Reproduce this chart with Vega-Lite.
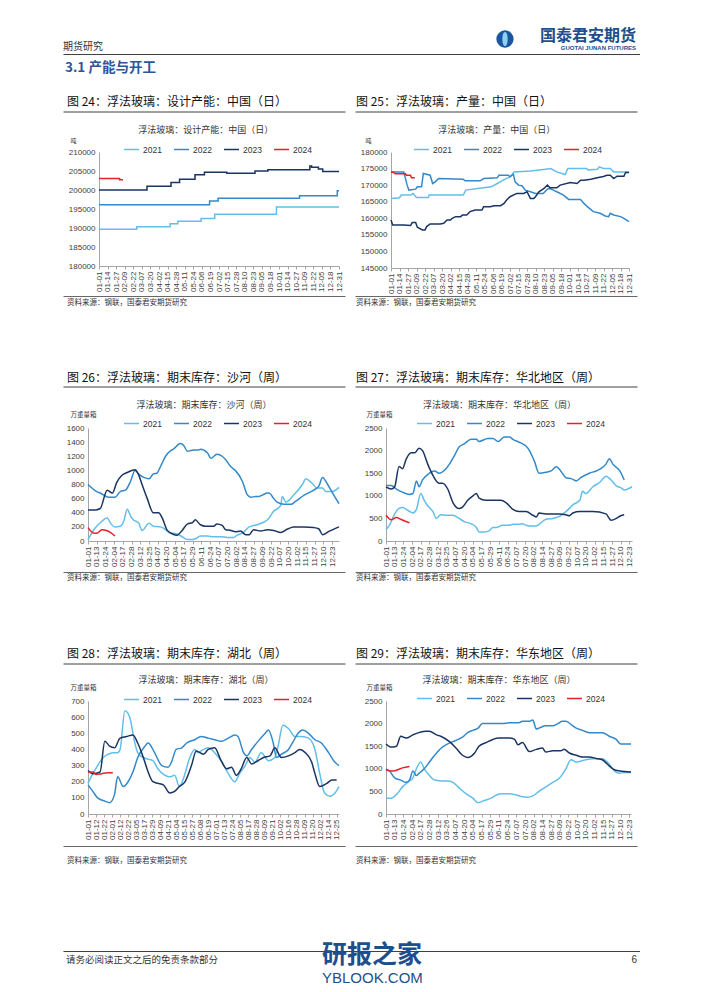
{
  "$schema": "https://vega.github.io/schema/vega-lite/v6.json",
  "background": "white",
  "padding": {"left": 63, "top": 24, "right": 0, "bottom": 0},
  "config": {
    "view": {"stroke": null},
    "font": "Noto Sans CJK SC",
    "axis": {"labelFont": "Liberation Sans", "labelFontSize": 8, "labelColor": "#404040", "domainColor": "#A6A6A6", "tickColor": "#A6A6A6", "grid": false},
    "line": {"strokeWidth": 1.5}
  },
  "resolve": {"scale": {"color": "independent", "x": "independent", "y": "independent"}, "legend": {"color": "independent"}},
  "datasets": {
    "d24": [
      {"s":"2021","u":0,"v":189700},{"s":"2021","u":4.4,"v":190300},{"s":"2021","u":8.3,"v":191100},{"s":"2021","u":9.2,"v":191800},{"s":"2021","u":11.9,"v":192500},{"s":"2021","u":13.5,"v":193600},{"s":"2021","u":20.7,"v":195500},{"s":"2021","u":28,"v":195500},
      {"s":"2022","u":0,"v":196100},{"s":"2022","u":12.9,"v":197100},{"s":"2022","u":13.9,"v":197800},{"s":"2022","u":23.4,"v":198500},{"s":"2022","u":27.8,"v":199800},{"s":"2022","u":28,"v":199800},
      {"s":"2023","u":0,"v":200000},{"s":"2023","u":5.6,"v":201000},{"s":"2023","u":8.4,"v":202000},{"s":"2023","u":9.4,"v":202800},{"s":"2023","u":11.2,"v":204000},{"s":"2023","u":12.3,"v":204700},{"s":"2023","u":14.9,"v":204400},{"s":"2023","u":18.2,"v":205000},{"s":"2023","u":19.7,"v":205300},{"s":"2023","u":24.6,"v":206300},{"s":"2023","u":24.8,"v":206000},{"s":"2023","u":25.6,"v":205500},{"s":"2023","u":26.1,"v":204900},{"s":"2023","u":28,"v":204900},
      {"s":"2024","u":0,"v":203000},{"s":"2024","u":2.4,"v":202700},{"s":"2024","u":2.8,"v":202700}
    ],
    "d25": [
      {"s":"2021","u":0,"v":166000},{"s":"2021","u":1.0,"v":166200},{"s":"2021","u":1.2,"v":167000},{"s":"2021","u":2.3,"v":167000},{"s":"2021","u":2.6,"v":167500},{"s":"2021","u":3.0,"v":166300},{"s":"2021","u":4.4,"v":166300},{"s":"2021","u":4.5,"v":167000},{"s":"2021","u":8.5,"v":167000},{"s":"2021","u":8.8,"v":168500},{"s":"2021","u":10.2,"v":169000},{"s":"2021","u":11.8,"v":169500},{"s":"2021","u":12.5,"v":170500},{"s":"2021","u":13.2,"v":171500},{"s":"2021","u":14.0,"v":172500},{"s":"2021","u":14.5,"v":174000},{"s":"2021","u":16.4,"v":174300},{"s":"2021","u":18.2,"v":174800},{"s":"2021","u":18.8,"v":175000},{"s":"2021","u":19.5,"v":174000},{"s":"2021","u":20.5,"v":173200},{"s":"2021","u":20.8,"v":175000},{"s":"2021","u":23.0,"v":175000},{"s":"2021","u":23.2,"v":174600},{"s":"2021","u":24.3,"v":174800},{"s":"2021","u":24.5,"v":175500},{"s":"2021","u":25.0,"v":175000},{"s":"2021","u":25.8,"v":175000},{"s":"2021","u":26.2,"v":174000},{"s":"2021","u":28.0,"v":174000},
      {"s":"2022","u":0,"v":174000},{"s":"2022","u":1.5,"v":174000},{"s":"2022","u":1.9,"v":170000},{"s":"2022","u":2.1,"v":168500},{"s":"2022","u":2.9,"v":168800},{"s":"2022","u":3.1,"v":169500},{"s":"2022","u":3.6,"v":169500},{"s":"2022","u":3.8,"v":173500},{"s":"2022","u":4.6,"v":173000},{"s":"2022","u":4.9,"v":170500},{"s":"2022","u":5.2,"v":171000},{"s":"2022","u":5.6,"v":172000},{"s":"2022","u":8.5,"v":171800},{"s":"2022","u":8.7,"v":171300},{"s":"2022","u":10.5,"v":171300},{"s":"2022","u":10.9,"v":172000},{"s":"2022","u":12.5,"v":172200},{"s":"2022","u":12.7,"v":173000},{"s":"2022","u":13.8,"v":173000},{"s":"2022","u":14.0,"v":172500},{"s":"2022","u":14.4,"v":173300},{"s":"2022","u":14.6,"v":171000},{"s":"2022","u":15.0,"v":170000},{"s":"2022","u":15.4,"v":169800},{"s":"2022","u":15.8,"v":168500},{"s":"2022","u":16.4,"v":168000},{"s":"2022","u":17.0,"v":167500},{"s":"2022","u":17.9,"v":167500},{"s":"2022","u":18.4,"v":168800},{"s":"2022","u":18.7,"v":169000},{"s":"2022","u":19.1,"v":168500},{"s":"2022","u":19.5,"v":168000},{"s":"2022","u":20.3,"v":167000},{"s":"2022","u":20.9,"v":165700},{"s":"2022","u":22.3,"v":165700},{"s":"2022","u":22.7,"v":164500},{"s":"2022","u":23.1,"v":163500},{"s":"2022","u":23.8,"v":162000},{"s":"2022","u":24.6,"v":161500},{"s":"2022","u":25.2,"v":160700},{"s":"2022","u":25.6,"v":160500},{"s":"2022","u":25.8,"v":161500},{"s":"2022","u":26.2,"v":161000},{"s":"2022","u":27.0,"v":160500},{"s":"2022","u":27.4,"v":160000},{"s":"2022","u":28.0,"v":159000},
      {"s":"2023","u":0,"v":159500},{"s":"2023","u":0.2,"v":158000},{"s":"2023","u":1.5,"v":158000},{"s":"2023","u":2.3,"v":157800},{"s":"2023","u":2.5,"v":158700},{"s":"2023","u":2.9,"v":158700},{"s":"2023","u":3.1,"v":157300},{"s":"2023","u":3.7,"v":156500},{"s":"2023","u":4.0,"v":156500},{"s":"2023","u":4.2,"v":157500},{"s":"2023","u":4.6,"v":158300},{"s":"2023","u":5.8,"v":158300},{"s":"2023","u":6.2,"v":158500},{"s":"2023","u":6.6,"v":159500},{"s":"2023","u":7.0,"v":159500},{"s":"2023","u":7.2,"v":160000},{"s":"2023","u":7.6,"v":160500},{"s":"2023","u":8.2,"v":160500},{"s":"2023","u":8.4,"v":161000},{"s":"2023","u":8.9,"v":161000},{"s":"2023","u":9.3,"v":162000},{"s":"2023","u":9.9,"v":162500},{"s":"2023","u":10.7,"v":162500},{"s":"2023","u":10.9,"v":163500},{"s":"2023","u":11.7,"v":163500},{"s":"2023","u":12.1,"v":163800},{"s":"2023","u":12.9,"v":163800},{"s":"2023","u":13.3,"v":164500},{"s":"2023","u":13.6,"v":165500},{"s":"2023","u":14.0,"v":166500},{"s":"2023","u":14.8,"v":167500},{"s":"2023","u":15.6,"v":167500},{"s":"2023","u":16.0,"v":168000},{"s":"2023","u":16.4,"v":166000},{"s":"2023","u":16.8,"v":166000},{"s":"2023","u":17.0,"v":166500},{"s":"2023","u":17.4,"v":168000},{"s":"2023","u":18.0,"v":169000},{"s":"2023","u":18.4,"v":170000},{"s":"2023","u":18.7,"v":169200},{"s":"2023","u":19.5,"v":169200},{"s":"2023","u":19.9,"v":170000},{"s":"2023","u":21.1,"v":170800},{"s":"2023","u":21.9,"v":170500},{"s":"2023","u":22.3,"v":171500},{"s":"2023","u":22.7,"v":171500},{"s":"2023","u":23.5,"v":171800},{"s":"2023","u":24.4,"v":172300},{"s":"2023","u":25.0,"v":172600},{"s":"2023","u":25.4,"v":173000},{"s":"2023","u":25.8,"v":173000},{"s":"2023","u":26.2,"v":172000},{"s":"2023","u":26.6,"v":172700},{"s":"2023","u":27.4,"v":172700},{"s":"2023","u":27.6,"v":173800},{"s":"2023","u":28.0,"v":173800},
      {"s":"2024","u":0,"v":173900},{"s":"2024","u":0.3,"v":173900},{"s":"2024","u":0.5,"v":173400},{"s":"2024","u":1.7,"v":173400},{"s":"2024","u":1.8,"v":173000},{"s":"2024","u":2.3,"v":173000},{"s":"2024","u":2.4,"v":172200},{"s":"2024","u":2.8,"v":172200}
    ],
    "d26": [
      {"s":"2021","u":0,"v":20},{"s":"2021","u":0.8,"v":180},{"s":"2021","u":1.6,"v":280},{"s":"2021","u":2.2,"v":330},{"s":"2021","u":2.6,"v":250},{"s":"2021","u":3.1,"v":200},{"s":"2021","u":3.7,"v":210},{"s":"2021","u":4.1,"v":280},{"s":"2021","u":4.5,"v":450},{"s":"2021","u":4.9,"v":350},{"s":"2021","u":5.2,"v":300},{"s":"2021","u":5.8,"v":260},{"s":"2021","u":6.2,"v":150},{"s":"2021","u":7.0,"v":250},{"s":"2021","u":7.5,"v":210},{"s":"2021","u":8.3,"v":200},{"s":"2021","u":8.7,"v":180},{"s":"2021","u":9.3,"v":120},{"s":"2021","u":10.2,"v":100},{"s":"2021","u":10.8,"v":60},{"s":"2021","u":11.4,"v":20},{"s":"2021","u":12.0,"v":20},{"s":"2021","u":12.3,"v":30},{"s":"2021","u":12.9,"v":70},{"s":"2021","u":13.7,"v":70},{"s":"2021","u":14.4,"v":60},{"s":"2021","u":15.2,"v":60},{"s":"2021","u":16.0,"v":50},{"s":"2021","u":16.7,"v":50},{"s":"2021","u":17.1,"v":80},{"s":"2021","u":17.9,"v":130},{"s":"2021","u":18.5,"v":200},{"s":"2021","u":19.4,"v":230},{"s":"2021","u":20.6,"v":300},{"s":"2021","u":21.3,"v":420},{"s":"2021","u":22.1,"v":500},{"s":"2021","u":22.3,"v":630},{"s":"2021","u":22.7,"v":550},{"s":"2021","u":23.6,"v":650},{"s":"2021","u":24.6,"v":800},{"s":"2021","u":25.0,"v":880},{"s":"2021","u":25.6,"v":830},{"s":"2021","u":26.3,"v":750},{"s":"2021","u":26.9,"v":750},{"s":"2021","u":27.3,"v":700},{"s":"2021","u":28.0,"v":700},{"s":"2021","u":28.8,"v":760},
      {"s":"2022","u":0,"v":800},{"s":"2022","u":1.0,"v":700},{"s":"2022","u":1.4,"v":680},{"s":"2022","u":2.4,"v":620},{"s":"2022","u":3.1,"v":620},{"s":"2022","u":3.7,"v":700},{"s":"2022","u":4.3,"v":720},{"s":"2022","u":4.9,"v":850},{"s":"2022","u":5.4,"v":1000},{"s":"2022","u":5.8,"v":950},{"s":"2022","u":6.4,"v":900},{"s":"2022","u":7.0,"v":880},{"s":"2022","u":7.5,"v":950},{"s":"2022","u":7.9,"v":960},{"s":"2022","u":8.3,"v":1050},{"s":"2022","u":8.9,"v":1200},{"s":"2022","u":9.5,"v":1280},{"s":"2022","u":9.8,"v":1300},{"s":"2022","u":10.6,"v":1380},{"s":"2022","u":11.0,"v":1350},{"s":"2022","u":11.4,"v":1270},{"s":"2022","u":11.8,"v":1280},{"s":"2022","u":12.2,"v":1290},{"s":"2022","u":12.7,"v":1290},{"s":"2022","u":12.9,"v":1300},{"s":"2022","u":13.7,"v":1250},{"s":"2022","u":14.1,"v":1170},{"s":"2022","u":14.8,"v":1230},{"s":"2022","u":15.4,"v":1200},{"s":"2022","u":15.8,"v":1150},{"s":"2022","u":16.4,"v":1050},{"s":"2022","u":16.9,"v":1000},{"s":"2022","u":17.7,"v":850},{"s":"2022","u":18.3,"v":650},{"s":"2022","u":18.7,"v":620},{"s":"2022","u":19.2,"v":630},{"s":"2022","u":19.6,"v":630},{"s":"2022","u":20.0,"v":650},{"s":"2022","u":20.6,"v":680},{"s":"2022","u":20.8,"v":680},{"s":"2022","u":21.2,"v":620},{"s":"2022","u":21.7,"v":550},{"s":"2022","u":22.5,"v":520},{"s":"2022","u":23.3,"v":520},{"s":"2022","u":23.8,"v":560},{"s":"2022","u":24.8,"v":650},{"s":"2022","u":25.9,"v":720},{"s":"2022","u":26.5,"v":780},{"s":"2022","u":26.9,"v":900},{"s":"2022","u":27.5,"v":800},{"s":"2022","u":28.2,"v":650},{"s":"2022","u":28.8,"v":530},
      {"s":"2023","u":0,"v":440},{"s":"2023","u":0.8,"v":440},{"s":"2023","u":1.4,"v":460},{"s":"2023","u":2.2,"v":720},{"s":"2023","u":2.8,"v":680},{"s":"2023","u":3.3,"v":830},{"s":"2023","u":3.9,"v":930},{"s":"2023","u":4.5,"v":970},{"s":"2023","u":5.4,"v":1010},{"s":"2023","u":5.8,"v":940},{"s":"2023","u":6.2,"v":800},{"s":"2023","u":6.8,"v":600},{"s":"2023","u":7.5,"v":400},{"s":"2023","u":8.1,"v":400},{"s":"2023","u":8.5,"v":330},{"s":"2023","u":9.1,"v":150},{"s":"2023","u":9.7,"v":100},{"s":"2023","u":10.2,"v":80},{"s":"2023","u":10.8,"v":150},{"s":"2023","u":11.4,"v":240},{"s":"2023","u":12.0,"v":260},{"s":"2023","u":12.3,"v":300},{"s":"2023","u":12.9,"v":230},{"s":"2023","u":13.5,"v":210},{"s":"2023","u":14.4,"v":210},{"s":"2023","u":14.8,"v":240},{"s":"2023","u":15.4,"v":220},{"s":"2023","u":15.8,"v":160},{"s":"2023","u":16.4,"v":150},{"s":"2023","u":16.9,"v":130},{"s":"2023","u":17.5,"v":140},{"s":"2023","u":18.1,"v":90},{"s":"2023","u":18.5,"v":90},{"s":"2023","u":19.0,"v":160},{"s":"2023","u":19.8,"v":140},{"s":"2023","u":20.6,"v":160},{"s":"2023","u":21.3,"v":150},{"s":"2023","u":22.1,"v":120},{"s":"2023","u":22.9,"v":170},{"s":"2023","u":23.6,"v":200},{"s":"2023","u":24.8,"v":200},{"s":"2023","u":25.9,"v":190},{"s":"2023","u":26.5,"v":170},{"s":"2023","u":26.9,"v":90},{"s":"2023","u":27.7,"v":140},{"s":"2023","u":28.8,"v":200},
      {"s":"2024","u":0,"v":190},{"s":"2024","u":0.7,"v":110},{"s":"2024","u":1.0,"v":110},{"s":"2024","u":1.6,"v":160},{"s":"2024","u":2.2,"v":145},{"s":"2024","u":2.6,"v":120},{"s":"2024","u":3.1,"v":70}
    ],
    "d27": [
      {"s":"2021","u":0,"v":250},{"s":"2021","u":0.4,"v":350},{"s":"2021","u":1.0,"v":600},{"s":"2021","u":1.5,"v":720},{"s":"2021","u":1.9,"v":740},{"s":"2021","u":2.5,"v":680},{"s":"2021","u":3.1,"v":620},{"s":"2021","u":3.5,"v":700},{"s":"2021","u":4.0,"v":1050},{"s":"2021","u":4.4,"v":900},{"s":"2021","u":4.8,"v":780},{"s":"2021","u":5.4,"v":650},{"s":"2021","u":5.8,"v":500},{"s":"2021","u":6.3,"v":580},{"s":"2021","u":6.9,"v":570},{"s":"2021","u":7.7,"v":570},{"s":"2021","u":8.4,"v":500},{"s":"2021","u":9.0,"v":430},{"s":"2021","u":9.8,"v":380},{"s":"2021","u":10.4,"v":300},{"s":"2021","u":10.7,"v":200},{"s":"2021","u":11.3,"v":200},{"s":"2021","u":11.9,"v":230},{"s":"2021","u":12.3,"v":300},{"s":"2021","u":12.7,"v":300},{"s":"2021","u":13.4,"v":350},{"s":"2021","u":14.2,"v":350},{"s":"2021","u":14.6,"v":370},{"s":"2021","u":15.3,"v":370},{"s":"2021","u":15.7,"v":380},{"s":"2021","u":16.1,"v":350},{"s":"2021","u":16.9,"v":330},{"s":"2021","u":17.5,"v":350},{"s":"2021","u":17.8,"v":400},{"s":"2021","u":18.4,"v":480},{"s":"2021","u":19.2,"v":500},{"s":"2021","u":20.0,"v":550},{"s":"2021","u":20.7,"v":650},{"s":"2021","u":21.5,"v":800},{"s":"2021","u":22.3,"v":900},{"s":"2021","u":22.6,"v":1100},{"s":"2021","u":23.0,"v":1050},{"s":"2021","u":23.8,"v":1200},{"s":"2021","u":24.6,"v":1300},{"s":"2021","u":25.3,"v":1430},{"s":"2021","u":25.9,"v":1350},{"s":"2021","u":26.5,"v":1220},{"s":"2021","u":27.0,"v":1180},{"s":"2021","u":27.4,"v":1130},{"s":"2021","u":27.8,"v":1150},{"s":"2021","u":28.3,"v":1200},
      {"s":"2022","u":0,"v":1230},{"s":"2022","u":0.6,"v":1230},{"s":"2022","u":1.2,"v":1150},{"s":"2022","u":1.9,"v":1080},{"s":"2022","u":2.7,"v":1030},{"s":"2022","u":3.1,"v":1050},{"s":"2022","u":3.5,"v":1330},{"s":"2022","u":3.8,"v":1200},{"s":"2022","u":4.2,"v":1350},{"s":"2022","u":5.0,"v":1500},{"s":"2022","u":5.6,"v":1550},{"s":"2022","u":6.1,"v":1500},{"s":"2022","u":6.9,"v":1600},{"s":"2022","u":7.3,"v":1700},{"s":"2022","u":7.9,"v":1900},{"s":"2022","u":8.4,"v":2080},{"s":"2022","u":9.0,"v":2150},{"s":"2022","u":9.8,"v":2250},{"s":"2022","u":10.4,"v":2250},{"s":"2022","u":10.7,"v":2200},{"s":"2022","u":11.7,"v":2270},{"s":"2022","u":12.3,"v":2270},{"s":"2022","u":12.9,"v":2200},{"s":"2022","u":13.6,"v":2300},{"s":"2022","u":14.2,"v":2300},{"s":"2022","u":14.6,"v":2250},{"s":"2022","u":15.5,"v":2170},{"s":"2022","u":16.1,"v":2100},{"s":"2022","u":16.5,"v":2000},{"s":"2022","u":17.1,"v":1750},{"s":"2022","u":17.6,"v":1500},{"s":"2022","u":18.4,"v":1520},{"s":"2022","u":19.0,"v":1550},{"s":"2022","u":19.6,"v":1640},{"s":"2022","u":20.1,"v":1550},{"s":"2022","u":20.7,"v":1400},{"s":"2022","u":21.3,"v":1380},{"s":"2022","u":21.9,"v":1330},{"s":"2022","u":22.4,"v":1400},{"s":"2022","u":23.4,"v":1500},{"s":"2022","u":24.2,"v":1550},{"s":"2022","u":24.7,"v":1600},{"s":"2022","u":25.3,"v":1700},{"s":"2022","u":25.7,"v":1820},{"s":"2022","u":26.1,"v":1700},{"s":"2022","u":26.9,"v":1550},{"s":"2022","u":27.4,"v":1350},
      {"s":"2023","u":0,"v":1200},{"s":"2023","u":0.6,"v":1150},{"s":"2023","u":1.0,"v":1200},{"s":"2023","u":1.5,"v":1650},{"s":"2023","u":1.9,"v":1600},{"s":"2023","u":2.3,"v":1800},{"s":"2023","u":2.9,"v":1950},{"s":"2023","u":3.3,"v":1950},{"s":"2023","u":3.8,"v":2050},{"s":"2023","u":4.2,"v":2000},{"s":"2023","u":4.8,"v":1700},{"s":"2023","u":5.4,"v":1450},{"s":"2023","u":6.1,"v":1280},{"s":"2023","u":6.5,"v":1280},{"s":"2023","u":7.1,"v":1150},{"s":"2023","u":7.7,"v":850},{"s":"2023","u":8.4,"v":720},{"s":"2023","u":8.8,"v":750},{"s":"2023","u":9.4,"v":900},{"s":"2023","u":10.0,"v":1000},{"s":"2023","u":10.4,"v":1050},{"s":"2023","u":10.7,"v":950},{"s":"2023","u":11.5,"v":900},{"s":"2023","u":12.7,"v":900},{"s":"2023","u":13.2,"v":900},{"s":"2023","u":13.8,"v":850},{"s":"2023","u":14.6,"v":700},{"s":"2023","u":15.3,"v":650},{"s":"2023","u":16.1,"v":650},{"s":"2023","u":16.9,"v":570},{"s":"2023","u":17.3,"v":530},{"s":"2023","u":17.6,"v":620},{"s":"2023","u":18.4,"v":600},{"s":"2023","u":20.0,"v":600},{"s":"2023","u":20.7,"v":580},{"s":"2023","u":21.1,"v":560},{"s":"2023","u":21.5,"v":620},{"s":"2023","u":22.3,"v":650},{"s":"2023","u":23.8,"v":650},{"s":"2023","u":25.3,"v":600},{"s":"2023","u":25.9,"v":460},{"s":"2023","u":26.5,"v":500},{"s":"2023","u":27.0,"v":560},{"s":"2023","u":27.4,"v":580},
      {"s":"2024","u":0,"v":570},{"s":"2024","u":0.6,"v":470},{"s":"2024","u":1.2,"v":520},{"s":"2024","u":1.7,"v":480},{"s":"2024","u":2.3,"v":430},{"s":"2024","u":2.7,"v":400}
    ],
    "d28": [
      {"s":"2021","u":0,"v":190},{"s":"2021","u":0.6,"v":250},{"s":"2021","u":1.2,"v":300},{"s":"2021","u":1.9,"v":350},{"s":"2021","u":2.5,"v":370},{"s":"2021","u":3.1,"v":380},{"s":"2021","u":3.7,"v":380},{"s":"2021","u":4.0,"v":400},{"s":"2021","u":4.6,"v":640},{"s":"2021","u":5.2,"v":600},{"s":"2021","u":5.8,"v":450},{"s":"2021","u":6.2,"v":380},{"s":"2021","u":6.9,"v":350},{"s":"2021","u":7.5,"v":340},{"s":"2021","u":8.1,"v":330},{"s":"2021","u":8.7,"v":280},{"s":"2021","u":9.6,"v":240},{"s":"2021","u":10.2,"v":230},{"s":"2021","u":10.8,"v":240},{"s":"2021","u":11.4,"v":170},{"s":"2021","u":11.9,"v":220},{"s":"2021","u":12.7,"v":350},{"s":"2021","u":13.3,"v":400},{"s":"2021","u":13.7,"v":380},{"s":"2021","u":14.4,"v":400},{"s":"2021","u":15.0,"v":410},{"s":"2021","u":15.8,"v":380},{"s":"2021","u":16.6,"v":330},{"s":"2021","u":17.5,"v":250},{"s":"2021","u":18.3,"v":200},{"s":"2021","u":18.9,"v":250},{"s":"2021","u":19.6,"v":300},{"s":"2021","u":20.2,"v":350},{"s":"2021","u":20.8,"v":320},{"s":"2021","u":21.6,"v":380},{"s":"2021","u":22.5,"v":330},{"s":"2021","u":23.3,"v":350},{"s":"2021","u":23.7,"v":420},{"s":"2021","u":24.3,"v":550},{"s":"2021","u":25.0,"v":530},{"s":"2021","u":25.8,"v":480},{"s":"2021","u":26.6,"v":480},{"s":"2021","u":27.5,"v":470},{"s":"2021","u":28.3,"v":400},{"s":"2021","u":28.9,"v":250},{"s":"2021","u":29.5,"v":130},{"s":"2021","u":30.2,"v":110},{"s":"2021","u":30.8,"v":130},{"s":"2021","u":31.3,"v":170},
      {"s":"2022","u":0,"v":180},{"s":"2022","u":0.6,"v":140},{"s":"2022","u":1.2,"v":100},{"s":"2022","u":2.1,"v":80},{"s":"2022","u":2.7,"v":70},{"s":"2022","u":3.3,"v":120},{"s":"2022","u":3.7,"v":230},{"s":"2022","u":4.4,"v":170},{"s":"2022","u":5.0,"v":200},{"s":"2022","u":5.6,"v":260},{"s":"2022","u":6.2,"v":350},{"s":"2022","u":7.1,"v":420},{"s":"2022","u":7.5,"v":440},{"s":"2022","u":8.3,"v":380},{"s":"2022","u":9.2,"v":300},{"s":"2022","u":10.0,"v":290},{"s":"2022","u":10.4,"v":320},{"s":"2022","u":11.0,"v":400},{"s":"2022","u":11.7,"v":410},{"s":"2022","u":12.3,"v":440},{"s":"2022","u":13.3,"v":460},{"s":"2022","u":14.1,"v":480},{"s":"2022","u":15.0,"v":470},{"s":"2022","u":15.8,"v":460},{"s":"2022","u":16.6,"v":450},{"s":"2022","u":17.5,"v":470},{"s":"2022","u":18.3,"v":490},{"s":"2022","u":18.7,"v":480},{"s":"2022","u":19.4,"v":380},{"s":"2022","u":19.8,"v":360},{"s":"2022","u":20.4,"v":400},{"s":"2022","u":21.2,"v":450},{"s":"2022","u":22.1,"v":500},{"s":"2022","u":22.5,"v":520},{"s":"2022","u":23.1,"v":440},{"s":"2022","u":23.5,"v":350},{"s":"2022","u":24.1,"v":370},{"s":"2022","u":25.0,"v":400},{"s":"2022","u":25.6,"v":450},{"s":"2022","u":26.2,"v":500},{"s":"2022","u":26.8,"v":520},{"s":"2022","u":27.5,"v":500},{"s":"2022","u":28.3,"v":460},{"s":"2022","u":29.1,"v":440},{"s":"2022","u":30.0,"v":380},{"s":"2022","u":30.8,"v":320},{"s":"2022","u":31.3,"v":300},
      {"s":"2023","u":0,"v":270},{"s":"2023","u":0.6,"v":250},{"s":"2023","u":1.5,"v":260},{"s":"2023","u":2.1,"v":450},{"s":"2023","u":2.7,"v":420},{"s":"2023","u":3.3,"v":410},{"s":"2023","u":4.0,"v":470},{"s":"2023","u":4.8,"v":480},{"s":"2023","u":5.6,"v":490},{"s":"2023","u":6.2,"v":440},{"s":"2023","u":6.9,"v":350},{"s":"2023","u":7.5,"v":260},{"s":"2023","u":8.1,"v":200},{"s":"2023","u":8.7,"v":190},{"s":"2023","u":9.4,"v":180},{"s":"2023","u":10.2,"v":130},{"s":"2023","u":10.8,"v":140},{"s":"2023","u":11.4,"v":170},{"s":"2023","u":12.1,"v":200},{"s":"2023","u":12.9,"v":300},{"s":"2023","u":13.5,"v":390},{"s":"2023","u":14.4,"v":370},{"s":"2023","u":15.0,"v":400},{"s":"2023","u":15.8,"v":410},{"s":"2023","u":16.6,"v":330},{"s":"2023","u":17.3,"v":280},{"s":"2023","u":17.9,"v":290},{"s":"2023","u":18.5,"v":240},{"s":"2023","u":19.1,"v":280},{"s":"2023","u":19.8,"v":350},{"s":"2023","u":20.4,"v":310},{"s":"2023","u":21.2,"v":330},{"s":"2023","u":21.9,"v":350},{"s":"2023","u":22.7,"v":360},{"s":"2023","u":23.3,"v":410},{"s":"2023","u":24.1,"v":350},{"s":"2023","u":25.0,"v":360},{"s":"2023","u":25.8,"v":380},{"s":"2023","u":26.4,"v":400},{"s":"2023","u":27.1,"v":380},{"s":"2023","u":27.9,"v":320},{"s":"2023","u":28.3,"v":250},{"s":"2023","u":28.9,"v":170},{"s":"2023","u":29.8,"v":190},{"s":"2023","u":30.4,"v":210},{"s":"2023","u":31.0,"v":210},
      {"s":"2024","u":0,"v":260},{"s":"2024","u":0.6,"v":260},{"s":"2024","u":1.0,"v":245},{"s":"2024","u":1.7,"v":250},{"s":"2024","u":2.5,"v":255},{"s":"2024","u":3.1,"v":255}
    ],
    "d29": [
      {"s":"2021","u":0,"v":350},{"s":"2021","u":0.6,"v":350},{"s":"2021","u":1.3,"v":450},{"s":"2021","u":1.9,"v":600},{"s":"2021","u":2.5,"v":700},{"s":"2021","u":3.1,"v":800},{"s":"2021","u":3.5,"v":1000},{"s":"2021","u":4.0,"v":1150},{"s":"2021","u":4.4,"v":1000},{"s":"2021","u":4.8,"v":900},{"s":"2021","u":5.6,"v":750},{"s":"2021","u":6.5,"v":730},{"s":"2021","u":7.1,"v":730},{"s":"2021","u":7.7,"v":700},{"s":"2021","u":8.3,"v":600},{"s":"2021","u":9.2,"v":450},{"s":"2021","u":10.0,"v":350},{"s":"2021","u":10.6,"v":250},{"s":"2021","u":11.3,"v":300},{"s":"2021","u":12.1,"v":350},{"s":"2021","u":12.7,"v":420},{"s":"2021","u":13.4,"v":450},{"s":"2021","u":14.2,"v":450},{"s":"2021","u":15.0,"v":420},{"s":"2021","u":15.7,"v":380},{"s":"2021","u":16.3,"v":370},{"s":"2021","u":16.9,"v":400},{"s":"2021","u":17.6,"v":500},{"s":"2021","u":18.4,"v":600},{"s":"2021","u":19.2,"v":700},{"s":"2021","u":20.0,"v":800},{"s":"2021","u":20.7,"v":1000},{"s":"2021","u":21.3,"v":1200},{"s":"2021","u":21.9,"v":1150},{"s":"2021","u":23.0,"v":1200},{"s":"2021","u":23.8,"v":1220},{"s":"2021","u":24.9,"v":1220},{"s":"2021","u":25.7,"v":1100},{"s":"2021","u":26.3,"v":950},{"s":"2021","u":26.9,"v":900},{"s":"2021","u":27.4,"v":920},{"s":"2021","u":28.2,"v":920},
      {"s":"2022","u":0,"v":1000},{"s":"2022","u":0.4,"v":950},{"s":"2022","u":1.0,"v":800},{"s":"2022","u":1.7,"v":750},{"s":"2022","u":2.3,"v":700},{"s":"2022","u":2.7,"v":750},{"s":"2022","u":3.1,"v":950},{"s":"2022","u":3.5,"v":850},{"s":"2022","u":3.8,"v":900},{"s":"2022","u":4.4,"v":1000},{"s":"2022","u":5.0,"v":1150},{"s":"2022","u":5.6,"v":1300},{"s":"2022","u":6.3,"v":1450},{"s":"2022","u":7.1,"v":1550},{"s":"2022","u":7.7,"v":1600},{"s":"2022","u":8.3,"v":1650},{"s":"2022","u":8.8,"v":1700},{"s":"2022","u":9.4,"v":1800},{"s":"2022","u":10.0,"v":1850},{"s":"2022","u":10.6,"v":1900},{"s":"2022","u":11.1,"v":2000},{"s":"2022","u":11.9,"v":2000},{"s":"2022","u":13.4,"v":2000},{"s":"2022","u":14.2,"v":2020},{"s":"2022","u":15.3,"v":2020},{"s":"2022","u":15.7,"v":2050},{"s":"2022","u":16.5,"v":2050},{"s":"2022","u":16.9,"v":2080},{"s":"2022","u":17.3,"v":1880},{"s":"2022","u":17.6,"v":1900},{"s":"2022","u":18.4,"v":1950},{"s":"2022","u":19.2,"v":1950},{"s":"2022","u":19.8,"v":2000},{"s":"2022","u":20.3,"v":2050},{"s":"2022","u":20.7,"v":2050},{"s":"2022","u":21.5,"v":1950},{"s":"2022","u":21.9,"v":1900},{"s":"2022","u":22.6,"v":1850},{"s":"2022","u":23.4,"v":1800},{"s":"2022","u":24.9,"v":1800},{"s":"2022","u":25.7,"v":1720},{"s":"2022","u":26.5,"v":1650},{"s":"2022","u":27.0,"v":1550},{"s":"2022","u":28.2,"v":1550},
      {"s":"2023","u":0,"v":1550},{"s":"2023","u":0.6,"v":1480},{"s":"2023","u":1.2,"v":1500},{"s":"2023","u":1.7,"v":1720},{"s":"2023","u":2.3,"v":1680},{"s":"2023","u":3.1,"v":1750},{"s":"2023","u":3.8,"v":1800},{"s":"2023","u":4.6,"v":1830},{"s":"2023","u":5.0,"v":1830},{"s":"2023","u":5.8,"v":1750},{"s":"2023","u":6.3,"v":1720},{"s":"2023","u":7.3,"v":1600},{"s":"2023","u":8.1,"v":1450},{"s":"2023","u":8.8,"v":1300},{"s":"2023","u":9.4,"v":1250},{"s":"2023","u":10.2,"v":1350},{"s":"2023","u":10.7,"v":1500},{"s":"2023","u":11.5,"v":1580},{"s":"2023","u":12.3,"v":1650},{"s":"2023","u":13.0,"v":1680},{"s":"2023","u":14.2,"v":1680},{"s":"2023","u":14.8,"v":1650},{"s":"2023","u":15.2,"v":1530},{"s":"2023","u":15.7,"v":1580},{"s":"2023","u":16.5,"v":1380},{"s":"2023","u":17.3,"v":1430},{"s":"2023","u":18.0,"v":1460},{"s":"2023","u":18.4,"v":1370},{"s":"2023","u":19.2,"v":1400},{"s":"2023","u":20.1,"v":1400},{"s":"2023","u":20.5,"v":1430},{"s":"2023","u":21.1,"v":1350},{"s":"2023","u":21.9,"v":1300},{"s":"2023","u":22.6,"v":1260},{"s":"2023","u":23.4,"v":1260},{"s":"2023","u":24.2,"v":1230},{"s":"2023","u":24.9,"v":1200},{"s":"2023","u":25.5,"v":1100},{"s":"2023","u":26.1,"v":1000},{"s":"2023","u":26.9,"v":950},{"s":"2023","u":28.2,"v":930},
      {"s":"2024","u":0,"v":980},{"s":"2024","u":0.6,"v":950},{"s":"2024","u":1.2,"v":970},{"s":"2024","u":1.9,"v":1020},{"s":"2024","u":2.7,"v":1050}
    ]
  },
  "spacing": 0,
  "vconcat": [
    {
      "width": 577, "height": 30,
      "data": {"values": [{"t": "期货研究"}]},
      "layer": [
        {"mark": {"type": "text", "align": "left", "baseline": "middle", "dy": 8, "fontSize": 10, "color": "#333333", "font": "Noto Sans CJK SC"},
         "encoding": {"x": {"datum": 0, "type": "quantitative", "scale": {"domain": [0, 1]}, "axis": {"orient": "bottom", "labels": false, "ticks": false, "title": null, "grid": false, "domainColor": "#404040", "domainWidth": 1.2}}, "text": {"field": "t"}}},
        {"mark": {"type": "text", "align": "right", "baseline": "middle", "dx": -4, "dy": -3, "fontSize": 16, "fontWeight": "bold", "color": "#1E4E8C", "font": "Noto Sans CJK SC", "text": "国泰君安期货"},
         "encoding": {"x": {"datum": 1, "type": "quantitative"}}},
        {"mark": {"type": "text", "align": "right", "baseline": "middle", "dx": -4, "dy": 9, "fontSize": 6, "fontWeight": "bold", "color": "#1E4E8C", "font": "Liberation Sans", "text": "GUOTAI JUNAN FUTURES"},
         "encoding": {"x": {"datum": 1, "type": "quantitative"}}},
        {"mark": {"type": "point", "shape": "circle", "filled": true, "size": 300, "color": "#1A56A0", "opacity": 1},
         "encoding": {"x": {"datum": 0.766, "type": "quantitative"}}},
        {"mark": {"type": "point", "shape": "M0,-1C0.5,-1 0.5,1 0,1C-0.5,1 -0.5,-1 0,-1Z", "filled": true, "size": 200, "color": "#8FD0F0", "opacity": 1},
         "encoding": {"x": {"datum": 0.766, "type": "quantitative"}}}
      ]
    },
    {
      "width": 577, "height": 23,
      "data": {"values": [{"t": "3.1  产能与开工"}]},
      "mark": {"type": "text", "align": "left", "baseline": "middle", "dx": 2, "dy": 2, "fontSize": 13.5, "fontWeight": "bold", "color": "#2E5597", "font": "Noto Sans CJK SC"},
      "encoding": {"x": {"datum": 0, "type": "quantitative", "scale": {"domain": [0, 1]}, "axis": null}, "text": {"field": "t"}}
    },
    {
      "spacing": 10,
      "hconcat": [
        {"width": 282, "height": 49, "data": {"values": [{"t": "图 24：浮法玻璃：设计产能：中国（日）"}]},
         "mark": {"type": "text", "align": "left", "baseline": "middle", "dx": 4, "dy": 0.5, "fontSize": 12, "color": "#111111", "font": "Noto Sans CJK SC"},
         "encoding": {"x": {"datum": 0, "type": "quantitative", "scale": {"domain": [0, 1]}, "axis": {"orient": "bottom", "offset": -14.5, "labels": false, "ticks": false, "title": null, "grid": false, "domainColor": "#404040", "domainWidth": 1}}, "text": {"field": "t"}}},
        {"width": 282, "height": 49, "data": {"values": [{"t": "图 25：浮法玻璃：产量：中国（日）"}]},
         "mark": {"type": "text", "align": "left", "baseline": "middle", "dx": 1, "dy": 0.5, "fontSize": 12, "color": "#111111", "font": "Noto Sans CJK SC"},
         "encoding": {"x": {"datum": 0, "type": "quantitative", "scale": {"domain": [0, 1]}, "axis": {"orient": "bottom", "offset": -14.5, "labels": false, "ticks": false, "title": null, "grid": false, "domainColor": "#404040", "domainWidth": 1}}, "text": {"field": "t"}}}
      ]
    },
    {
      "spacing": 0,
      "resolve": {"scale": {"color": "independent"}, "legend": {"color": "independent"}},
      "hconcat": [
        {"width": 5, "height": 10, "data": {"values": []}, "mark": "point"},
        {
          "width": 240, "height": 114,
          "data": {"name": "d24"},
          "title": {"text": "浮法玻璃：设计产能：中国（日）", "anchor": "middle", "frame": "bounds", "offset": 2, "fontSize": 9, "font": "Noto Sans CJK SC", "fontWeight": "normal", "color": "#333333"},
          "mark": {"type": "line", "interpolate": "step-after"},
          "encoding": {
            "x": {"field": "u", "type": "quantitative", "scale": {"domain": [0, 28], "nice": false, "zero": false},
                  "axis": {"values": [0,1,2,3,4,5,6,7,8,9,10,11,12,13,14,15,16,17,18,19,20,21,22,23,24,25,26,27,28], "labelExpr": "['01-01','01-14','01-27','02-09','02-22','03-07','03-20','04-02','04-15','04-28','05-11','05-24','06-06','06-19','07-02','07-15','07-28','08-10','08-23','09-05','09-18','10-01','10-14','10-27','11-09','11-22','12-05','12-18','12-31'][datum.value]", "labelAngle": -90, "labelFlush": false, "labelOverlap": false, "title": null, "tickSize": 3, "labelPadding": 2}},
            "y": {"field": "v", "type": "quantitative", "scale": {"domain": [180000, 210000], "nice": false, "zero": false},
                  "axis": {"values": [180000,185000,190000,195000,200000,205000,210000], "format": "d", "ticks": false, "labelPadding": 4, "title": "吨", "titleAngle": 0, "titleAlign": "left", "titleBaseline": "middle", "titleX": -29, "titleY": -12, "titleFontSize": 6, "titleFont": "Noto Sans CJK SC", "titleFontWeight": "normal", "titleColor": "#333333"}},
            "color": {"field": "s", "type": "nominal", "scale": {"domain": ["2021","2022","2023","2024"], "range": ["#62BEEA","#3389C9","#1B3563","#E8202A"]},
                      "legend": {"orient": "none", "legendX": 24, "legendY": -11, "direction": "horizontal", "title": null, "symbolType": "stroke", "symbolSize": 225, "symbolStrokeWidth": 2, "labelFontSize": 8.5, "labelFont": "Liberation Sans", "labelColor": "#333333", "labelOffset": 3, "columnPadding": 9, "padding": 0}},
            "strokeWidth": {"condition": {"test": "datum.s === '2024'", "value": 2.2}, "value": 1.5}
          }
        },
        {"width": 16, "height": 10, "data": {"values": []}, "mark": "point"},
        {
          "width": 238, "height": 116,
          "data": {"name": "d25"},
          "title": {"text": "浮法玻璃：产量：中国（日）", "anchor": "middle", "frame": "bounds", "offset": 2, "fontSize": 9, "font": "Noto Sans CJK SC", "fontWeight": "normal", "color": "#333333"},
          "mark": {"type": "line"},
          "encoding": {
            "x": {"field": "u", "type": "quantitative", "scale": {"domain": [0, 28], "nice": false, "zero": false},
                  "axis": {"values": [0,1,2,3,4,5,6,7,8,9,10,11,12,13,14,15,16,17,18,19,20,21,22,23,24,25,26,27,28], "labelExpr": "['01-01','01-14','01-27','02-09','02-22','03-07','03-20','04-02','04-15','04-28','05-11','05-24','06-06','06-19','07-02','07-15','07-28','08-10','08-23','09-05','09-18','10-01','10-14','10-27','11-09','11-22','12-05','12-18','12-31'][datum.value]", "labelAngle": -90, "labelFlush": false, "labelOverlap": false, "title": null, "tickSize": 3, "labelPadding": 2}},
            "y": {"field": "v", "type": "quantitative", "scale": {"domain": [145000, 180000], "nice": false, "zero": false},
                  "axis": {"values": [145000,150000,155000,160000,165000,170000,175000,180000], "format": "d", "ticks": false, "labelPadding": 4, "title": "吨", "titleAngle": 0, "titleAlign": "left", "titleBaseline": "middle", "titleX": -26, "titleY": -12, "titleFontSize": 6, "titleFont": "Noto Sans CJK SC", "titleFontWeight": "normal", "titleColor": "#333333"}},
            "color": {"field": "s", "type": "nominal", "scale": {"domain": ["2021","2022","2023","2024"], "range": ["#62BEEA","#3389C9","#1B3563","#E8202A"]},
                      "legend": {"orient": "none", "legendX": 22, "legendY": -11, "direction": "horizontal", "title": null, "symbolType": "stroke", "symbolSize": 225, "symbolStrokeWidth": 2, "labelFontSize": 8.5, "labelFont": "Liberation Sans", "labelColor": "#333333", "labelOffset": 3, "columnPadding": 9, "padding": 0}},
            "strokeWidth": {"condition": {"test": "datum.s === '2024'", "value": 2.2}, "value": 1.5}
          }
        }
      ]
    },
    {
      "spacing": 10,
      "hconcat": [
        {"width": 282, "height": 58, "data": {"values": [{"t": "资料来源：钢联，国泰君安期货研究"}]},
         "mark": {"type": "text", "align": "left", "baseline": "middle", "dx": 4, "dy": -20, "fontSize": 7.5, "color": "#333333", "font": "Noto Sans CJK SC"},
         "encoding": {"x": {"datum": 0, "type": "quantitative", "scale": {"domain": [0, 1]}, "axis": {"orient": "top", "offset": -2, "labels": false, "ticks": false, "title": null, "grid": false, "domainColor": "#404040", "domainWidth": 0.8}}, "text": {"field": "t"}}},
        {"width": 282, "height": 58, "data": {"values": [{"t": "资料来源：钢联，国泰君安期货研究"}]},
         "mark": {"type": "text", "align": "left", "baseline": "middle", "dx": 1, "dy": -20, "fontSize": 7.5, "color": "#333333", "font": "Noto Sans CJK SC"},
         "encoding": {"x": {"datum": 0, "type": "quantitative", "scale": {"domain": [0, 1]}, "axis": {"orient": "top", "offset": -2, "labels": false, "ticks": false, "title": null, "grid": false, "domainColor": "#404040", "domainWidth": 0.8}}, "text": {"field": "t"}}}
      ]
    },
    {
      "spacing": 10,
      "hconcat": [
        {"width": 282, "height": 49, "data": {"values": [{"t": "图 26：浮法玻璃：期末库存：沙河（周）"}]},
         "mark": {"type": "text", "align": "left", "baseline": "middle", "dx": 4, "dy": 1, "fontSize": 12, "color": "#111111", "font": "Noto Sans CJK SC"},
         "encoding": {"x": {"datum": 0, "type": "quantitative", "scale": {"domain": [0, 1]}, "axis": {"orient": "bottom", "offset": -14.5, "labels": false, "ticks": false, "title": null, "grid": false, "domainColor": "#404040", "domainWidth": 1}}, "text": {"field": "t"}}},
        {"width": 282, "height": 49, "data": {"values": [{"t": "图 27：浮法玻璃：期末库存：华北地区（周）"}]},
         "mark": {"type": "text", "align": "left", "baseline": "middle", "dx": 1, "dy": 1, "fontSize": 12, "color": "#111111", "font": "Noto Sans CJK SC"},
         "encoding": {"x": {"datum": 0, "type": "quantitative", "scale": {"domain": [0, 1]}, "axis": {"orient": "bottom", "offset": -14.5, "labels": false, "ticks": false, "title": null, "grid": false, "domainColor": "#404040", "domainWidth": 1}}, "text": {"field": "t"}}}
      ]
    },
    {
      "spacing": 0,
      "resolve": {"scale": {"color": "independent"}, "legend": {"color": "independent"}},
      "hconcat": [
        {"width": 3, "height": 10, "data": {"values": []}, "mark": "point"},
        {
          "width": 251, "height": 113,
          "data": {"name": "d26"},
          "title": {"text": "浮法玻璃：期末库存：沙河（周）", "anchor": "middle", "frame": "bounds", "offset": 1, "fontSize": 9, "font": "Noto Sans CJK SC", "fontWeight": "normal", "color": "#333333"},
          "mark": {"type": "line", "interpolate": "monotone"},
          "encoding": {
            "x": {"field": "u", "type": "quantitative", "scale": {"domain": [0, 28.8], "nice": false, "zero": false},
                  "axis": {"values": [0,1,2,3,4,5,6,7,8,9,10,11,12,13,14,15,16,17,18,19,20,21,22,23,24,25,26,27,28], "labelExpr": "['01-01','01-13','01-24','02-04','02-17','02-28','03-12','03-25','04-07','04-20','05-04','05-17','05-29','06-11','06-24','07-07','07-20','08-02','08-14','08-27','09-09','09-22','10-07','10-20','11-02','11-15','11-27','12-10','12-23'][datum.value]", "labelAngle": -90, "labelFlush": false, "labelOverlap": false, "title": null, "tickSize": 3, "labelPadding": 2}},
            "y": {"field": "v", "type": "quantitative", "scale": {"domain": [0, 1600], "nice": false},
                  "axis": {"values": [0,200,400,600,800,1000,1200,1400,1600], "format": "d", "ticks": false, "labelPadding": 4, "title": "万重量箱", "titleAngle": 0, "titleAlign": "left", "titleBaseline": "middle", "titleX": -18, "titleY": -14, "titleFontSize": 6.5, "titleFont": "Noto Sans CJK SC", "titleFontWeight": "normal", "titleColor": "#333333"}},
            "color": {"field": "s", "type": "nominal", "scale": {"domain": ["2021","2022","2023","2024"], "range": ["#62BEEA","#3389C9","#1B3563","#E8202A"]},
                      "legend": {"orient": "none", "legendX": 35, "legendY": -13, "direction": "horizontal", "title": null, "symbolType": "stroke", "symbolSize": 225, "symbolStrokeWidth": 2, "labelFontSize": 8.5, "labelFont": "Liberation Sans", "labelColor": "#333333", "labelOffset": 3, "columnPadding": 9, "padding": 0}},
            "strokeWidth": {"condition": {"test": "datum.s === '2024'", "value": 2.2}, "value": 1.5}
          }
        },
        {"width": 22, "height": 10, "data": {"values": []}, "mark": "point"},
        {
          "width": 246, "height": 113,
          "data": {"name": "d27"},
          "title": {"text": "浮法玻璃：期末库存：华北地区（周）", "anchor": "middle", "frame": "bounds", "offset": 1, "fontSize": 9, "font": "Noto Sans CJK SC", "fontWeight": "normal", "color": "#333333"},
          "mark": {"type": "line", "interpolate": "monotone"},
          "encoding": {
            "x": {"field": "u", "type": "quantitative", "scale": {"domain": [0, 28.3], "nice": false, "zero": false},
                  "axis": {"values": [0,1,2,3,4,5,6,7,8,9,10,11,12,13,14,15,16,17,18,19,20,21,22,23,24,25,26,27,28], "labelExpr": "['01-01','01-13','01-24','02-04','02-17','02-28','03-12','03-25','04-07','04-20','05-04','05-17','05-29','06-11','06-24','07-07','07-20','08-02','08-14','08-27','09-09','09-22','10-07','10-20','11-02','11-15','11-27','12-10','12-23'][datum.value]", "labelAngle": -90, "labelFlush": false, "labelOverlap": false, "title": null, "tickSize": 3, "labelPadding": 2}},
            "y": {"field": "v", "type": "quantitative", "scale": {"domain": [0, 2500], "nice": false},
                  "axis": {"values": [0,500,1000,1500,2000,2500], "format": "d", "ticks": false, "labelPadding": 4, "title": "万重量箱", "titleAngle": 0, "titleAlign": "left", "titleBaseline": "middle", "titleX": -20, "titleY": -14, "titleFontSize": 6.5, "titleFont": "Noto Sans CJK SC", "titleFontWeight": "normal", "titleColor": "#333333"}},
            "color": {"field": "s", "type": "nominal", "scale": {"domain": ["2021","2022","2023","2024"], "range": ["#62BEEA","#3389C9","#1B3563","#E8202A"]},
                      "legend": {"orient": "none", "legendX": 30, "legendY": -13, "direction": "horizontal", "title": null, "symbolType": "stroke", "symbolSize": 225, "symbolStrokeWidth": 2, "labelFontSize": 8.5, "labelFont": "Liberation Sans", "labelColor": "#333333", "labelOffset": 3, "columnPadding": 9, "padding": 0}},
            "strokeWidth": {"condition": {"test": "datum.s === '2024'", "value": 2.2}, "value": 1.5}
          }
        }
      ]
    },
    {
      "spacing": 10,
      "hconcat": [
        {"width": 282, "height": 61, "data": {"values": [{"t": "资料来源：钢联，国泰君安期货研究"}]},
         "mark": {"type": "text", "align": "left", "baseline": "middle", "dx": 4, "dy": -19.5, "fontSize": 7.5, "color": "#333333", "font": "Noto Sans CJK SC"},
         "encoding": {"x": {"datum": 0, "type": "quantitative", "scale": {"domain": [0, 1]}, "axis": {"orient": "top", "offset": -5, "labels": false, "ticks": false, "title": null, "grid": false, "domainColor": "#404040", "domainWidth": 0.8}}, "text": {"field": "t"}}},
        {"width": 282, "height": 61, "data": {"values": [{"t": "资料来源：钢联，国泰君安期货研究"}]},
         "mark": {"type": "text", "align": "left", "baseline": "middle", "dx": 1, "dy": -19.5, "fontSize": 7.5, "color": "#333333", "font": "Noto Sans CJK SC"},
         "encoding": {"x": {"datum": 0, "type": "quantitative", "scale": {"domain": [0, 1]}, "axis": {"orient": "top", "offset": -5, "labels": false, "ticks": false, "title": null, "grid": false, "domainColor": "#404040", "domainWidth": 0.8}}, "text": {"field": "t"}}}
      ]
    },
    {
      "spacing": 10,
      "hconcat": [
        {"width": 282, "height": 48, "data": {"values": [{"t": "图 28：浮法玻璃：期末库存：湖北（周）"}]},
         "mark": {"type": "text", "align": "left", "baseline": "middle", "dx": 4, "dy": 2, "fontSize": 12, "color": "#111111", "font": "Noto Sans CJK SC"},
         "encoding": {"x": {"datum": 0, "type": "quantitative", "scale": {"domain": [0, 1]}, "axis": {"orient": "bottom", "offset": -12.5, "labels": false, "ticks": false, "title": null, "grid": false, "domainColor": "#404040", "domainWidth": 1}}, "text": {"field": "t"}}},
        {"width": 282, "height": 48, "data": {"values": [{"t": "图 29：浮法玻璃：期末库存：华东地区（周）"}]},
         "mark": {"type": "text", "align": "left", "baseline": "middle", "dx": 1, "dy": 2, "fontSize": 12, "color": "#111111", "font": "Noto Sans CJK SC"},
         "encoding": {"x": {"datum": 0, "type": "quantitative", "scale": {"domain": [0, 1]}, "axis": {"orient": "bottom", "offset": -12.5, "labels": false, "ticks": false, "title": null, "grid": false, "domainColor": "#404040", "domainWidth": 1}}, "text": {"field": "t"}}}
      ]
    },
    {
      "spacing": 0,
      "resolve": {"scale": {"color": "independent"}, "legend": {"color": "independent"}},
      "hconcat": [
        {"width": 7, "height": 10, "data": {"values": []}, "mark": "point"},
        {
          "width": 251, "height": 113,
          "data": {"name": "d28"},
          "title": {"text": "浮法玻璃：期末库存：湖北（周）", "anchor": "middle", "frame": "bounds", "offset": -1, "fontSize": 9, "font": "Noto Sans CJK SC", "fontWeight": "normal", "color": "#333333"},
          "mark": {"type": "line", "interpolate": "monotone"},
          "encoding": {
            "x": {"field": "u", "type": "quantitative", "scale": {"domain": [0, 31.3], "nice": false, "zero": false},
                  "axis": {"values": [0,1,2,3,4,5,6,7,8,9,10,11,12,13,14,15,16,17,18,19,20,21,22,23,24,25,26,27,28,29,30,31], "labelExpr": "['01-01','01-12','01-22','02-01','02-12','02-22','03-05','03-17','03-29','04-09','04-21','05-04','05-15','05-27','06-08','06-19','07-01','07-13','07-24','08-05','08-17','08-28','09-09','09-21','10-02','10-16','10-28','11-09','11-20','12-02','12-14','12-25'][datum.value]", "labelAngle": -90, "labelFlush": false, "labelOverlap": false, "title": null, "tickSize": 3, "labelPadding": 2}},
            "y": {"field": "v", "type": "quantitative", "scale": {"domain": [0, 700], "nice": false},
                  "axis": {"values": [0,100,200,300,400,500,600,700], "format": "d", "ticks": false, "labelPadding": 4, "title": "万重量箱", "titleAngle": 0, "titleAlign": "left", "titleBaseline": "middle", "titleX": -18, "titleY": -14, "titleFontSize": 6.5, "titleFont": "Noto Sans CJK SC", "titleFontWeight": "normal", "titleColor": "#333333"}},
            "color": {"field": "s", "type": "nominal", "scale": {"domain": ["2021","2022","2023","2024"], "range": ["#62BEEA","#3389C9","#1B3563","#E8202A"]},
                      "legend": {"orient": "none", "legendX": 35, "legendY": -10, "direction": "horizontal", "title": null, "symbolType": "stroke", "symbolSize": 225, "symbolStrokeWidth": 2, "labelFontSize": 8.5, "labelFont": "Liberation Sans", "labelColor": "#333333", "labelOffset": 3, "columnPadding": 9, "padding": 0}},
            "strokeWidth": {"condition": {"test": "datum.s === '2024'", "value": 2.2}, "value": 1.5}
          }
        },
        {"width": 22, "height": 10, "data": {"values": []}, "mark": "point"},
        {
          "width": 245, "height": 113,
          "data": {"name": "d29"},
          "title": {"text": "浮法玻璃：期末库存：华东地区（周）", "anchor": "middle", "frame": "bounds", "offset": -1, "fontSize": 9, "font": "Noto Sans CJK SC", "fontWeight": "normal", "color": "#333333"},
          "mark": {"type": "line", "interpolate": "monotone"},
          "encoding": {
            "x": {"field": "u", "type": "quantitative", "scale": {"domain": [0, 28.2], "nice": false, "zero": false},
                  "axis": {"values": [0,1,2,3,4,5,6,7,8,9,10,11,12,13,14,15,16,17,18,19,20,21,22,23,24,25,26,27,28], "labelExpr": "['01-01','01-13','01-24','02-04','02-17','02-28','03-12','03-26','04-07','04-20','05-04','05-17','05-29','06-11','06-24','07-07','07-20','08-02','08-14','08-27','09-09','09-22','10-07','10-20','11-02','11-15','11-27','12-10','12-23'][datum.value]", "labelAngle": -90, "labelFlush": false, "labelOverlap": false, "title": null, "tickSize": 3, "labelPadding": 2}},
            "y": {"field": "v", "type": "quantitative", "scale": {"domain": [0, 2500], "nice": false},
                  "axis": {"values": [0,500,1000,1500,2000,2500], "format": "d", "ticks": false, "labelPadding": 4, "title": "万重量箱", "titleAngle": 0, "titleAlign": "left", "titleBaseline": "middle", "titleX": -20, "titleY": -14, "titleFontSize": 6.5, "titleFont": "Noto Sans CJK SC", "titleFontWeight": "normal", "titleColor": "#333333"}},
            "color": {"field": "s", "type": "nominal", "scale": {"domain": ["2021","2022","2023","2024"], "range": ["#62BEEA","#3389C9","#1B3563","#E8202A"]},
                      "legend": {"orient": "none", "legendX": 30, "legendY": -11, "direction": "horizontal", "title": null, "symbolType": "stroke", "symbolSize": 225, "symbolStrokeWidth": 2, "labelFontSize": 8.5, "labelFont": "Liberation Sans", "labelColor": "#333333", "labelOffset": 3, "columnPadding": 9, "padding": 0}},
            "strokeWidth": {"condition": {"test": "datum.s === '2024'", "value": 2.2}, "value": 1.5}
          }
        }
      ]
    },
    {
      "spacing": 10,
      "hconcat": [
        {"width": 282, "height": 33, "data": {"values": [{"t": "资料来源：钢联，国泰君安期货研究"}]},
         "mark": {"type": "text", "align": "left", "baseline": "middle", "dx": 4, "dy": 4, "fontSize": 7.5, "color": "#333333", "font": "Noto Sans CJK SC"},
         "encoding": {"x": {"datum": 0, "type": "quantitative", "scale": {"domain": [0, 1]}, "axis": {"orient": "top", "offset": -6, "labels": false, "ticks": false, "title": null, "grid": false, "domainColor": "#404040", "domainWidth": 0.8}}, "text": {"field": "t"}}},
        {"width": 282, "height": 33, "data": {"values": [{"t": "资料来源：钢联，国泰君安期货研究"}]},
         "mark": {"type": "text", "align": "left", "baseline": "middle", "dx": 1, "dy": 4, "fontSize": 7.5, "color": "#333333", "font": "Noto Sans CJK SC"},
         "encoding": {"x": {"datum": 0, "type": "quantitative", "scale": {"domain": [0, 1]}, "axis": {"orient": "top", "offset": -6, "labels": false, "ticks": false, "title": null, "grid": false, "domainColor": "#404040", "domainWidth": 0.8}}, "text": {"field": "t"}}}
      ]
    },
    {
      "width": 577, "height": 120,
      "data": {"values": [{"t": "请务必阅读正文之后的免责条款部分"}]},
      "layer": [
        {"mark": {"type": "text", "align": "left", "baseline": "middle", "dx": 3, "dy": 27, "fontSize": 9.5, "color": "#333333", "font": "Noto Sans CJK SC"},
         "encoding": {"x": {"datum": 0, "type": "quantitative", "scale": {"domain": [0, 1]}, "axis": {"orient": "top", "offset": -78, "labels": false, "ticks": false, "title": null, "grid": false, "domainColor": "#404040", "domainWidth": 1}}, "text": {"field": "t"}}},
        {"mark": {"type": "text", "align": "right", "baseline": "middle", "dx": -3, "dy": 27, "fontSize": 10, "color": "#333333", "font": "Liberation Sans", "text": "6"},
         "encoding": {"x": {"datum": 1, "type": "quantitative"}}},
        {"mark": {"type": "text", "align": "left", "baseline": "middle", "dx": 259, "dy": 22, "fontSize": 25, "fontWeight": "bold", "color": "#1F4E8C", "font": "Noto Sans CJK SC", "text": "研报之家"},
         "encoding": {"x": {"datum": 0, "type": "quantitative"}}},
        {"mark": {"type": "text", "align": "left", "baseline": "middle", "dx": 259, "dy": 45, "fontSize": 15, "color": "#1F4E8C", "font": "Liberation Sans", "text": "YBLOOK.COM"},
         "encoding": {"x": {"datum": 0, "type": "quantitative"}}}
      ]
    }
  ]
}
